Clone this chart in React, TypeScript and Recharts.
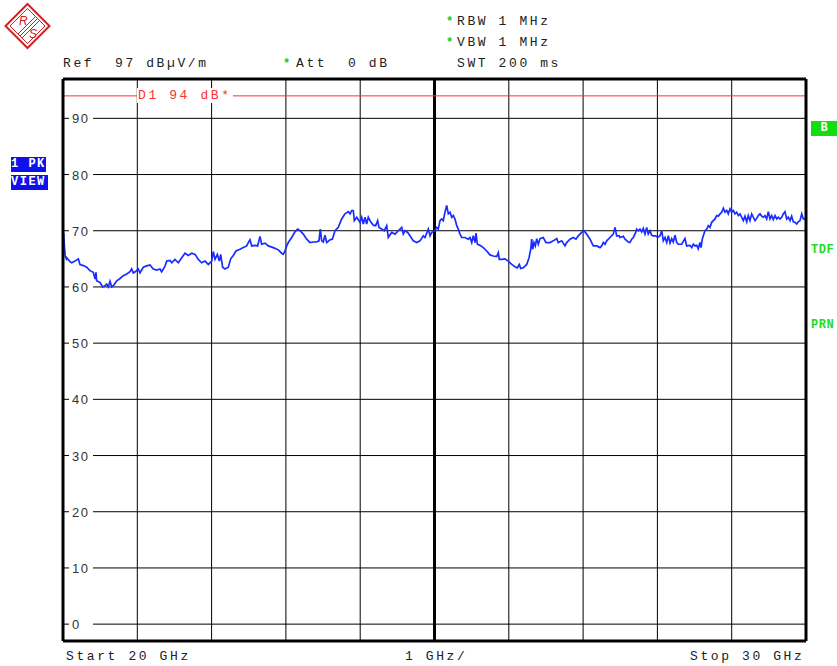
import { LineChart, Line, XAxis, YAxis, ReferenceLine } from 'recharts';

// trace: frequency in GHz, level in dBµV/m
const FREQ_GHZ = [
  20.0, 20.008, 20.02, 20.03, 20.045, 20.05, 20.094, 20.117, 20.162, 20.206, 20.229, 20.274, 20.319, 20.363,
  20.408, 20.431, 20.444, 20.453, 20.498, 20.534, 20.565, 20.588, 20.61, 20.633, 20.655, 20.677, 20.723,
  20.767, 20.812, 20.857, 20.902, 20.924, 20.946, 20.982, 21.013, 21.036, 21.081, 21.126, 21.171, 21.215,
  21.26, 21.305, 21.328, 21.373, 21.396, 21.44, 21.463, 21.507, 21.552, 21.598, 21.642, 21.686, 21.732,
  21.777, 21.821, 21.867, 21.911, 21.956, 22.001, 22.023, 22.046, 22.077, 22.104, 22.122, 22.149, 22.18,
  22.225, 22.257, 22.292, 22.328, 22.382, 22.427, 22.472, 22.507,
  22.517, 22.54, 22.584, 22.62, 22.651, 22.674, 22.719, 22.763, 22.83, 22.898, 22.943, 22.965, 22.988,
  23.011, 23.032, 23.078, 23.122, 23.159, 23.19, 23.234, 23.28, 23.324, 23.369, 23.415, 23.445, 23.463,
  23.482, 23.503, 23.526, 23.549, 23.594, 23.625, 23.661, 23.705, 23.751, 23.795, 23.84, 23.863, 23.886,
  23.907, 23.921, 23.953, 23.997, 24.02, 24.042, 24.065, 24.087, 24.109, 24.145, 24.176, 24.208, 24.235,
  24.253, 24.289, 24.324, 24.357, 24.378, 24.424, 24.468, 24.513, 24.536, 24.559, 24.58, 24.603, 24.639,
  24.67, 24.715, 24.76, 24.805, 24.849, 24.872, 24.917, 24.94, 24.962, 25.007, 25.03, 25.051, 25.074,
  25.097, 25.118, 25.141, 25.164, 25.186, 25.209, 25.232, 25.253, 25.276, 25.299, 25.32, 25.343, 25.366,
  25.41, 25.455, 25.478, 25.501, 25.522, 25.545, 25.559, 25.576, 25.612, 25.657, 25.703, 25.747, 25.791,
  25.837, 25.859, 25.872, 25.904, 25.949, 25.993, 26.039, 26.083, 26.114, 26.141, 26.16, 26.195, 26.241,
  26.272, 26.295, 26.308, 26.322, 26.339, 26.357, 26.376, 26.397, 26.42, 26.464, 26.501, 26.555, 26.599,
  26.645, 26.666, 26.712, 26.756, 26.779, 26.824, 26.868, 26.904, 26.935, 26.981, 27.012, 27.048, 27.093,
  27.137, 27.183, 27.227, 27.25, 27.272, 27.295, 27.318, 27.362, 27.406, 27.43, 27.452, 27.487,
  27.497, 27.541, 27.564, 27.608, 27.631, 27.654, 27.676, 27.708, 27.721, 27.743, 27.766, 27.789, 27.81,
  27.833, 27.856, 27.877, 27.9, 27.923, 27.945, 27.977, 28.004, 28.035, 28.058, 28.079, 28.102, 28.125,
  28.147, 28.17, 28.192, 28.214, 28.237, 28.26, 28.281, 28.327, 28.371, 28.394, 28.439, 28.462, 28.483,
  28.506, 28.529, 28.55, 28.573, 28.587, 28.604, 28.618, 28.641, 28.664, 28.685, 28.708, 28.731, 28.775,
  28.798, 28.82, 28.843, 28.866, 28.887, 28.91, 28.933, 28.954, 28.977, 29.0, 29.022, 29.045, 29.067,
  29.089, 29.112, 29.134, 29.156, 29.179, 29.202, 29.223, 29.246, 29.269, 29.291, 29.314, 29.336, 29.358,
  29.381, 29.404, 29.425, 29.448, 29.471, 29.493, 29.515, 29.538, 29.56, 29.583, 29.606, 29.627, 29.65,
  29.673, 29.694, 29.717, 29.74, 29.762, 29.785, 29.807, 29.829, 29.852, 29.875, 29.896, 29.919, 29.942,
  29.964, 29.987, 30.0,
];

const LEVEL_DBUV = [
  68.0, 69.6, 67.0, 65.5, 65.0, 65.2, 64.5, 64.3, 64.6, 65.0, 64.0, 63.8, 63.5, 62.9,
  62.6, 61.4, 62.6, 61.1, 60.8, 60.0, 60.2, 60.5, 60.0, 61.0, 60.0, 60.2, 61.1,
  61.5, 62.0, 62.3, 62.7, 63.2, 62.5, 62.8, 63.2, 62.5, 63.5, 63.75, 63.9, 63.2,
  63.0, 63.2, 62.7, 63.7, 64.6, 64.7, 64.3, 64.9, 64.3, 65.2, 66.0, 65.6, 66.0,
  65.8, 64.9, 64.3, 64.6, 64.0, 64.6, 66.3, 64.9, 65.8, 64.6, 65.8, 63.5, 63.2,
  63.5, 65.0, 65.6, 66.4, 66.7, 67.0, 67.3, 68.2,
  68.4, 67.3, 67.4, 67.3, 69.0, 67.6, 67.8, 67.3, 67.0, 66.6, 66.0, 65.8, 66.4,
  67.3, 67.9, 68.8, 69.8, 70.3, 70.0, 69.4, 68.5, 67.9, 68.0, 68.0, 68.2, 70.3,
  68.2, 68.0, 69.2, 67.9, 68.4, 68.5, 70.0, 70.6, 72.1, 73.0, 73.4, 73.0, 73.6,
  73.6, 71.8, 72.4, 71.5, 72.4, 71.2, 72.4, 71.2, 72.4, 71.5, 71.0, 70.9, 71.8,
  70.6, 70.3, 70.0, 70.9, 68.8, 69.7, 69.4, 70.0, 70.3, 70.6, 69.4, 70.0, 69.7,
  69.1, 68.2, 67.9, 68.2, 69.1, 68.8, 70.3, 69.1, 69.7, 70.0, 70.6, 70.3, 71.8,
  72.1, 71.8, 73.3, 74.5, 73.0, 73.3, 72.4, 72.7, 72.1, 70.9, 70.3, 69.4, 68.8,
  68.8, 68.5, 68.8, 67.9, 69.1, 67.9, 69.6, 67.6, 67.4, 67.0, 66.4, 65.7, 65.5,
  65.4, 66.1, 64.9, 64.9, 65.0, 64.6, 64.0, 63.6, 63.4, 64.0, 63.3, 63.4, 64.0,
  65.2, 66.7, 68.5, 66.7, 67.9, 67.3, 68.6, 67.6, 68.6, 68.8, 67.9, 67.9, 68.2,
  68.6, 67.9, 68.2, 67.3, 67.9, 68.5, 68.8, 68.5, 69.1, 69.7, 70.0, 69.4, 68.5,
  67.3, 67.3, 67.0, 67.3, 67.9, 67.6, 68.2, 68.8, 69.4, 70.6, 69.1, 69.1,
  68.8, 69.0, 68.5, 68.0, 67.9, 68.5, 68.8, 69.7, 70.3, 70.0, 70.3, 69.8, 70.4,
  69.4, 70.6, 69.4, 70.0, 69.2, 69.1, 69.1, 68.8, 69.1, 70.0, 68.2, 68.8, 67.9,
  69.1, 67.8, 68.6, 68.0, 69.2, 67.9, 67.6, 67.6, 68.6, 67.3, 67.4, 67.0, 67.6,
  67.3, 67.4, 66.8, 67.9, 67.0, 68.5, 69.1, 70.0, 70.3, 70.9, 70.6, 71.5, 72.1,
  72.7, 72.6, 73.0, 73.3, 74.0, 73.3, 73.6, 73.0, 73.9, 73.3, 73.6, 73.0, 73.3,
  72.7, 73.0, 72.4, 71.8, 72.6, 71.6, 72.7, 71.8, 73.0, 72.4, 71.8, 72.2, 72.7,
  73.0, 72.6, 72.4, 72.7, 72.1, 73.4, 72.1, 72.7, 72.0, 72.7, 72.1, 72.4, 72.1,
  72.4, 73.0, 73.4, 72.1, 72.4, 71.8, 72.6, 71.6, 71.5, 71.2, 71.6, 71.8, 73.0,
  72.1, 72.1, 72.0,
];

const FREQ_GRID = [21, 22, 23, 24, 26, 27, 28, 29];
const LEVEL_TICKS = [0, 10, 20, 30, 40, 50, 60, 70, 80, 90];
const DISPLAY_LINE_DB = 94;

const data = FREQ_GHZ.map((f, i) => ({ f, level: LEVEL_DBUV[i] }));

const mono = '"Liberation Mono", "DejaVu Sans Mono", monospace';

// level label sitting on the grid line, with a white patch behind it
function LevelLabel({ viewBox, text }: any) {
  if (!viewBox) return null;
  const { x, y } = viewBox;
  return (
    <g>
      <rect x={x + 6} y={y - 7} width={24} height={13} fill="#fff" />
      <text
        x={x + 9}
        y={y + 5}
        fontSize={13}
        fill="#333"
        letterSpacing={1.5}
        fontFamily='"Liberation Sans", Arial, sans-serif'
      >
        {text}
      </text>
    </g>
  );
}

function Logo() {
  return (
    <svg width={56} height={56} style={{ position: 'absolute', left: 0, top: 0 }}>
      <polygon points="27.5,4 49.5,26 27.5,48 5.5,26" fill="#fff" stroke="#d42020" strokeWidth={2} />
      <polygon points="27.5,8.5 45,26 27.5,43.5 10,26" fill="none" stroke="#d42020" strokeWidth={1} />
      <line x1={35} y1={17} x2={18} y2={34} stroke="#d42020" strokeWidth={1} />
      <line x1={37} y1={19} x2={20} y2={36} stroke="#d42020" strokeWidth={1} />
      <line x1={39} y1={21} x2={22} y2={38} stroke="#d42020" strokeWidth={1} />
      <text x={19} y={25} fontSize={12} fill="#d42020" fontStyle="italic" fontFamily="Arial, sans-serif">R</text>
      <text x={29} y={38} fontSize={12} fill="#d42020" fontStyle="italic" fontFamily="Arial, sans-serif">S</text>
    </svg>
  );
}

const txt = (left: number, top: number, extra: any = {}) => ({
  position: 'absolute' as const,
  left,
  top,
  fontFamily: mono,
  fontSize: 13,
  letterSpacing: 2.6,
  whiteSpace: 'pre' as const,
  color: '#222',
  lineHeight: '15px',
  ...extra,
});

const starStyle = (left: number, top: number) => ({
  position: 'absolute' as const,
  left,
  top,
  color: '#11cc11',
  fontFamily: mono,
  fontWeight: 'bold' as const,
  fontSize: 12,
  lineHeight: '12px',
});

export default function App() {
  return (
    <div style={{ position: 'absolute', left: 0, top: 0, width: 837, height: 666, background: '#fff', overflow: 'hidden' }}>
      <LineChart width={837} height={666} data={data} margin={{ top: 79, right: 31, bottom: 25, left: 63 }}>
        <XAxis type="number" dataKey="f" domain={[20, 30]} hide allowDataOverflow />
        <YAxis type="number" domain={[-3, 97]} hide allowDataOverflow />
        {LEVEL_TICKS.map((v) => (
          <ReferenceLine
            key={'h' + v}
            y={v}
            stroke="#000"
            strokeWidth={1}
            label={<LevelLabel text={String(v)} />}
          />
        ))}
        {FREQ_GRID.map((f) => (
          <ReferenceLine key={'v' + f} x={f} stroke="#000" strokeWidth={1} />
        ))}
        <ReferenceLine x={25} stroke="#000" strokeWidth={3} />
        <ReferenceLine y={DISPLAY_LINE_DB} stroke="#ff3030" strokeWidth={1} />
        <Line
          type="linear"
          dataKey="level"
          stroke="#1a2cff"
          strokeWidth={1.7}
          dot={false}
          isAnimationActive={false}
        />
        <ReferenceLine x={20} stroke="#000" strokeWidth={3} />
        <ReferenceLine x={30} stroke="#000" strokeWidth={3} />
        <ReferenceLine y={97} stroke="#000" strokeWidth={3} />
        <ReferenceLine y={-3} stroke="#000" strokeWidth={3} />
      </LineChart>

      <Logo />

      <span style={starStyle(446, 16)}>*</span>
      <div style={txt(457, 14)}>RBW 1 MHz</div>
      <span style={starStyle(446, 37)}>*</span>
      <div style={txt(457, 35)}>VBW 1 MHz</div>
      <div style={txt(63, 56)}>Ref  97 dBµV/m</div>
      <span style={starStyle(283, 58)}>*</span>
      <div style={txt(296, 56)}>Att  0 dB</div>
      <div style={txt(457, 56)}>SWT 200 ms</div>

      <div style={txt(137, 88, { color: '#ff3030', background: '#fff', padding: '0 1px' })}>D1 94 dB*</div>

      <div style={txt(66, 649)}>Start 20 GHz</div>
      <div style={txt(405, 649)}>1 GHz/</div>
      <div style={txt(690, 649)}>Stop 30 GHz</div>

      <div style={txt(11, 157, { background: '#1010ee', color: '#fff', fontWeight: 'bold', fontSize: 12, letterSpacing: 1.5, width: 35, height: 15, overflow: 'hidden' })}>1 PK</div>
      <div style={txt(11, 175, { background: '#1010ee', color: '#fff', fontWeight: 'bold', fontSize: 12, letterSpacing: 1.5, width: 37, height: 15, overflow: 'hidden' })}>VIEW</div>

      <div style={txt(811, 121, { background: '#11dd11', color: '#fff', fontWeight: 'bold', fontSize: 12, letterSpacing: 0, width: 26, height: 15, textAlign: 'center' })}>B</div>
      <div style={txt(811, 243, { color: '#22dd22', fontWeight: 'bold', fontSize: 12, letterSpacing: 0.5 })}>TDF</div>
      <div style={txt(811, 318, { color: '#22dd22', fontWeight: 'bold', fontSize: 12, letterSpacing: 0.5 })}>PRN</div>
    </div>
  );
}
